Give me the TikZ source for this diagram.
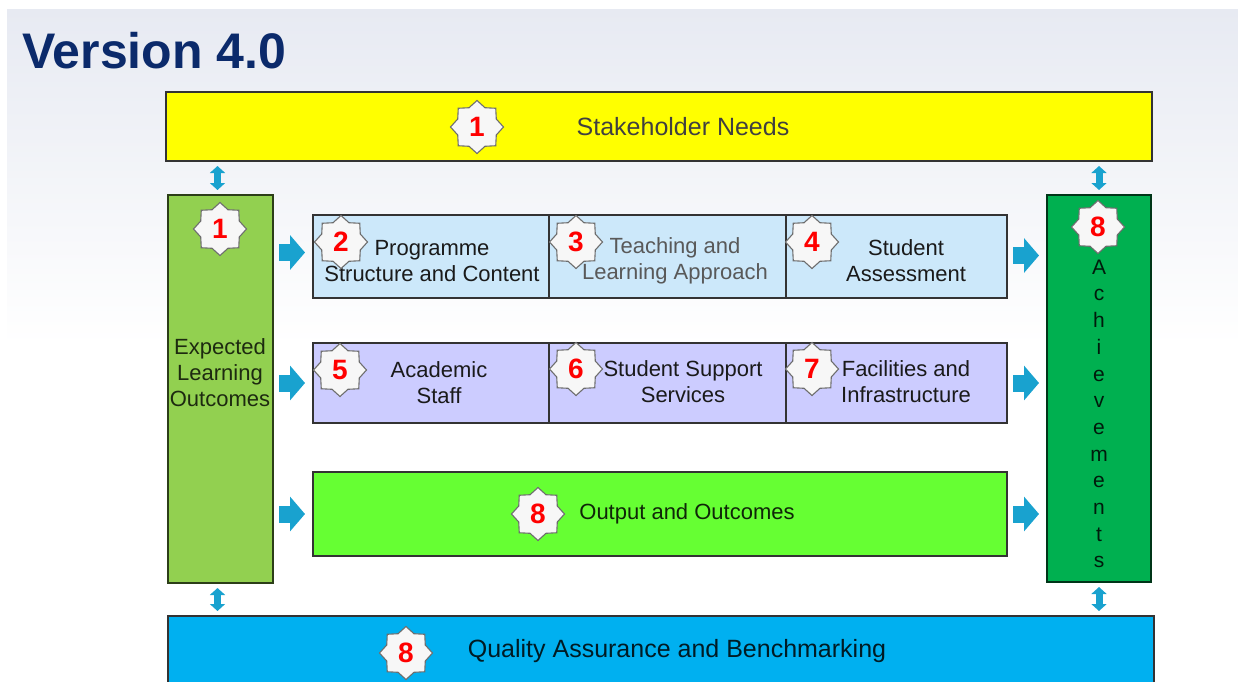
\documentclass[tikz,border=0pt]{standalone}
\usepackage{fontspec}
\setmainfont{Liberation Sans}
\usetikzlibrary{shapes.geometric,arrows.meta}
\definecolor{bgtop}{HTML}{E7EAF2}
\definecolor{titlec}{HTML}{0B2A6B}
\definecolor{yel}{HTML}{FFFF00}
\definecolor{lgreen}{HTML}{92D050}
\definecolor{dgreen}{HTML}{00B050}
\definecolor{lblue}{HTML}{CCE8FA}
\definecolor{lpurp}{HTML}{CCCCFF}
\definecolor{bgreen}{HTML}{66FF33}
\definecolor{qblue}{HTML}{00B0F0}
\definecolor{arrc}{HTML}{19A2CF}
\definecolor{bord}{HTML}{333333}
\definecolor{txt}{HTML}{1A1A1A}
\definecolor{numred}{HTML}{FF0000}
\definecolor{starb}{HTML}{6E6E6E}
\begin{document}
\begin{tikzpicture}[x=1pt,y=-1pt,
  panel/.style={draw=bord, line width=1.3pt, anchor=north west, inner sep=0, outer sep=0},
  badge/.style={star, star points=8, star point ratio=1.27, minimum size=53pt, inner sep=0,
    fill=white!97!black, draw=starb, line width=1.1pt,
    font=\fontsize{28}{30}\selectfont\bfseries, text=numred},
  lbl/.style={align=center, font=\fontsize{22}{26}\selectfont, text=txt, inner sep=0},
  band/.style={align=center, font=\fontsize{25}{28}\selectfont, inner sep=0},
  barrow/.style={arrc, line width=17pt, shorten <=6pt, shorten >=8pt,
    -{Triangle[width=34pt,length=15pt]}},
  vdbl/.style={arrc, line width=7pt, shorten <=5pt, shorten >=5pt,
    {Triangle[width=15pt,length=7pt]}-{Triangle[width=15pt,length=7pt]}}
]
\useasboundingbox (0,0) rectangle (1238,681);
\clip (0,0) rectangle (1238,681);
\fill[white] (0,0) rectangle (1238,681);
\shade[top color=bgtop, bottom color=white] (7,9) rectangle (1238,345);

% title
\node[anchor=base west, inner sep=0, font=\fontsize{50}{56}\selectfont\bfseries, text=titlec] (title) at (22,68) {Version 4.0};

% panels
\node[panel, fill=yel, minimum width=986pt, minimum height=69pt] (sn) at (166,92) {};
\node[panel, fill=lgreen, draw=black!70!lgreen, minimum width=105pt, minimum height=388pt] (elo) at (168,195) {};
\node[panel, fill=dgreen, draw=black!70!dgreen, minimum width=104pt, minimum height=387pt] (ach) at (1047,195) {};
\node[panel, fill=lblue, minimum width=236pt, minimum height=83pt] (b1) at (313,215) {};
\node[panel, fill=lblue, minimum width=237pt, minimum height=83pt] (b2) at (549,215) {};
\node[panel, fill=lblue, minimum width=221pt, minimum height=83pt] (b3) at (786,215) {};
\node[panel, fill=lpurp, minimum width=236pt, minimum height=80pt] (b5) at (313,343) {};
\node[panel, fill=lpurp, minimum width=237pt, minimum height=80pt] (b6) at (549,343) {};
\node[panel, fill=lpurp, minimum width=221pt, minimum height=80pt] (b7) at (786,343) {};
\node[panel, fill=bgreen, minimum width=694pt, minimum height=84pt] (oo) at (313,472) {};
\node[panel, fill=qblue, minimum width=986pt, minimum height=90pt] (qa) at (168,616) {};

% texts
\node[band, text=black!75] (tsn) at (683,127) {Stakeholder Needs};
\node[lbl, text=black!80!lgreen] (telo) at (220,373) {Expected\\Learning\\Outcomes};
\node[lbl] (t1) at (432,261) {Programme\\Structure and Content};
\node[lbl, text=black!65] (t2) at (675,261) {Teaching and\\Learning Approach};
\node[lbl] (t3) at (906,261) {Student\\Assessment};
\node[lbl] (t5) at (439,383) {Academic\\Staff};
\node[lbl] (t6) at (683,382) {Student Support\\Services};
\node[lbl] (t7) at (906,382) {Facilities and\\Infrastructure};
\node[lbl, text=black!85!bgreen] (too) at (687,514) {Output and Outcomes};
\node[align=center, inner sep=0, text=black!85!dgreen, font=\fontsize{21}{26.7}\selectfont] (tach) at (1099,414) {A\\c\\h\\i\\e\\v\\e\\m\\e\\n\\t\\s};
\node[band, text=black!85!qblue] (tqa) at (677,651) {Quality Assurance and Benchmarking};

% badges
\node[badge] (s1a) at (477,127) {1};
\node[badge] (s1b) at (220,229) {1};
\node[badge] (s2) at (341,242) {2};
\node[badge] (s3) at (576,242) {3};
\node[badge] (s4) at (812,242) {4};
\node[badge] (s5) at (340,370) {5};
\node[badge] (s6) at (576,369) {6};
\node[badge] (s7) at (812,369) {7};
\node[badge] (s8a) at (538,514) {8};
\node[badge] (s8b) at (1098,227) {8};
\node[badge] (s8c) at (406,653) {8};

% block arrows
\draw[barrow] ([yshift=4pt]elo.east |- b1.west) -- ([yshift=4pt]b1.west);
\draw[barrow] (elo.east |- b5.west) -- (b5.west);
\draw[barrow] (elo.east |- oo.west) -- (oo.west);
\draw[barrow] ([yshift=1pt]b3.east) -- ([yshift=1pt]ach.west |- b3.east);
\draw[barrow] (b7.east) -- (ach.west |- b7.east);
\draw[barrow] (oo.east) -- (ach.west |- oo.east);

% vertical double arrows
\draw[vdbl] ([xshift=-3pt]elo.north |- sn.south) -- ([xshift=-3pt]elo.north);
\draw[vdbl] (ach.north |- sn.south) -- (ach.north);
\draw[vdbl] ([xshift=-3pt]elo.south) -- ([xshift=-3pt]elo.south |- qa.north);
\draw[vdbl] (ach.south) -- (ach.south |- qa.north);
\end{tikzpicture}
\end{document}
